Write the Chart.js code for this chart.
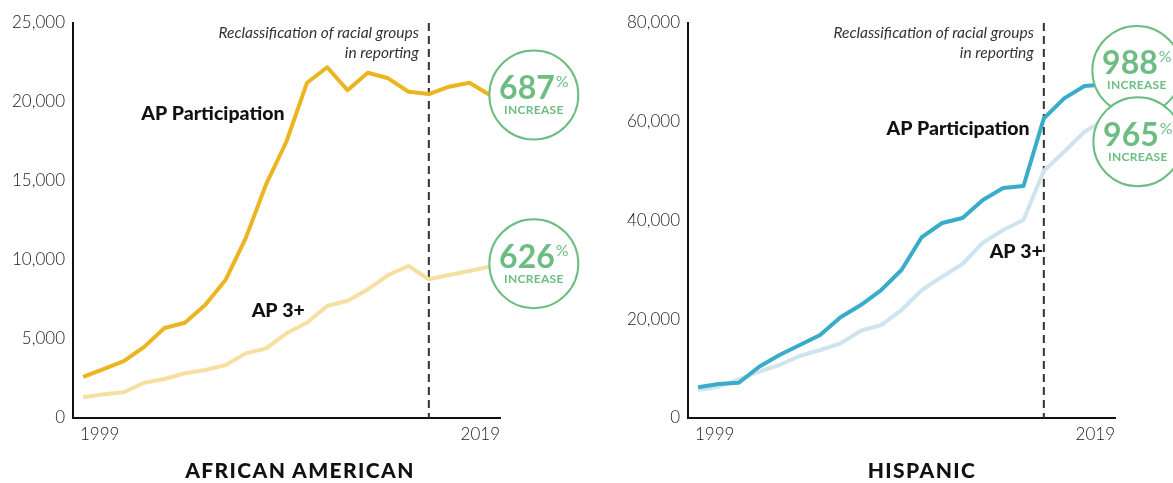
<!DOCTYPE html>
<html>
<head>
<meta charset="utf-8">
<script src="https://cdn.jsdelivr.net/npm/chart.js@4.4.1/dist/chart.umd.min.js"></script>
<style>
  body { margin: 0; background: #fff; width: 1173px; height: 483px; overflow: hidden; position: relative; font-family: Lato, sans-serif; }
  .wrap { position: absolute; top: 0; height: 483px; }
  #w1 { left: 0; width: 590px; }
  #w2 { left: 600px; width: 573px; }
  .title { position: absolute; top: 457px; font-weight: 900; font-size: 21px; letter-spacing: 1.4px; color: #111; transform: translateX(-50%); white-space: nowrap; }
</style>
</head>
<body>
<div class="wrap" id="w1"><canvas id="c1"></canvas></div>
<div class="wrap" id="w2"><canvas id="c2"></canvas></div>
<div class="title" style="left:300px">AFRICAN AMERICAN</div>
<div class="title" style="left:922px">HISPANIC</div>
<script>
// data
const years = ["1999", "2000", "2001", "2002", "2003", "2004", "2005", "2006", "2007", "2008", "2009",
               "2010", "2011", "2012", "2013", "2014", "2015", "2016", "2017", "2018", "2019"];

const aaParticipation = [2600, 3100, 3600, 4500, 5700, 6030, 7150, 8730, 11400, 14800, 17500,
                         21200, 22200, 20750, 21850, 21500, 20650, 20500, 20970, 21220, 20440];
const aaPass = [1310, 1500, 1630, 2230, 2470, 2830, 3040, 3350, 4090, 4410, 5360,
                6030, 7090, 7420, 8140, 9050, 9620, 8780, 9050, 9300, 9580];

const hiParticipation = [6210, 6890, 7150, 10390, 12760, 14780, 16800, 20390, 22880, 25920, 29970,
                         36650, 39490, 40500, 44150, 46580, 46980, 60690, 64740, 67230, 67560];
const hiPass = [5670, 6340, 7830, 9380, 10730, 12560, 13770, 15120, 17680, 18830, 21870,
                25920, 28620, 31190, 35500, 38070, 40100, 50080, 53930, 57980, 60390];

const aaIncrease = ["687", "626"];
const hiIncrease = ["988", "965"];
const splitYear = "2016";
const noteLines = ["Reclassification of racial groups", "in reporting"];

const GREEN = "#6dbd82";

// dashed split line, notes, series labels, % circles, end year labels
const overlay = {
  id: "overlay",
  beforeDatasetsDraw(chart, args, opts) {
    const { ctx, chartArea, scales: { x } } = chart;
    const dx = x.getPixelForValue(years.indexOf(splitYear));
    ctx.save();
    ctx.setLineDash([8, 5]);
    ctx.strokeStyle = "#333";
    ctx.lineWidth = 2;
    ctx.beginPath();
    ctx.moveTo(dx, chartArea.top);
    ctx.lineTo(dx, chartArea.bottom);
    ctx.stroke();
    ctx.restore();
  },
  afterDatasetsDraw(chart, args, opts) {
    const { ctx, chartArea, scales: { x, y } } = chart;
    const dx = x.getPixelForValue(years.indexOf(splitYear));
    ctx.save();

    // note
    ctx.font = "italic 15.5px Lato";
    ctx.fillStyle = "#333";
    ctx.textAlign = "right";
    ctx.textBaseline = "middle";
    noteLines.forEach((t, i) => ctx.fillText(t, dx - 10, chartArea.top + 10 + i * 20));

    // series labels
    ctx.font = "900 19.5px Lato";
    ctx.fillStyle = "#111";
    opts.labels.forEach(l => {
      ctx.fillText(l.text, x.getPixelForValue(l.x), y.getPixelForValue(l.y));
    });

    // end labels of the x axis
    ctx.font = "300 17px Lato";
    ctx.fillStyle = "#1a1a1a";
    ctx.textBaseline = "alphabetic";
    ctx.textAlign = "left";
    ctx.fillText(years[0], chartArea.left + 7, chartArea.bottom + 22);
    ctx.textAlign = "right";
    ctx.fillText(years[years.length - 1], chartArea.right, chartArea.bottom + 22);

    // circles
    chart.data.datasets.forEach((ds, i) => {
      const c = opts.circles[i];
      const meta = chart.getDatasetMeta(i);
      const pt = meta.data[meta.data.length - 1];
      const cx = pt.x + c.dx, cy = pt.y + c.dy;
      ctx.beginPath();
      ctx.arc(cx, cy, 44.5, 0, Math.PI * 2);
      ctx.fillStyle = "#fff";
      ctx.fill();
      ctx.lineWidth = 2;
      ctx.strokeStyle = GREEN;
      ctx.stroke();

      ctx.fillStyle = GREEN;
      ctx.textAlign = "left";
      ctx.textBaseline = "alphabetic";
      ctx.font = "bold 32px Lato";
      const nw = ctx.measureText(c.text).width;
      ctx.font = "16px Lato";
      const pw = ctx.measureText("%").width;
      const sx = cx - (nw + pw + 1) / 2;
      ctx.font = "bold 32px Lato";
      ctx.fillText(c.text, sx, cy + 4);
      ctx.font = "16px Lato";
      ctx.fillText("%", sx + nw + 1, cy - 8);
      ctx.font = "bold 12px Lato";
      ctx.textAlign = "center";
      ctx.letterSpacing = "0.3px";
      ctx.fillText("INCREASE", cx, cy + 19);
      ctx.letterSpacing = "0px";
    });
    ctx.restore();
  }
};

function makeChart(id, seriesA, seriesB, colorA, colorB, yMax, yStep, axisWidth, padRight, labels, circles) {
  return new Chart(document.getElementById(id), {
    type: "line",
    data: {
      labels: years,
      datasets: [
        { data: seriesA, borderColor: colorA, borderWidth: 4, pointRadius: 0, tension: 0, borderJoinStyle: "round" },
        { data: seriesB, borderColor: colorB, borderWidth: 4, pointRadius: 0, tension: 0, borderJoinStyle: "round" }
      ]
    },
    options: {
      responsive: true,
      maintainAspectRatio: false,
      animation: false,
      layout: { padding: { top: 23, right: padRight, bottom: 0, left: 0 } },
      plugins: {
        legend: { display: false },
        tooltip: { enabled: false },
        overlay: { labels, circles }
      },
      scales: {
        x: {
          offset: true,
          grid: { display: false, drawTicks: false },
          border: { display: true, color: "#111", width: 2 },
          ticks: { display: false },
          afterFit: s => { s.height = 65; }
        },
        y: {
          min: 0, max: yMax,
          grid: { display: false, drawTicks: false },
          border: { display: true, color: "#111", width: 2 },
          ticks: {
            stepSize: yStep,
            padding: 8,
            color: "#1a1a1a",
            font: { family: "Lato", size: 17, weight: "300" },
            callback: v => v.toLocaleString("en-US")
          },
          afterFit: s => { s.width = axisWidth; }
        }
      }
    },
    plugins: [overlay]
  });
}

makeChart("c1", aaParticipation, aaPass, "#ebb522", "#f6dfa0", 25000, 5000, 73, 90,
  [{ text: "AP Participation", x: 9.9, y: 19240 }, { text: "AP 3+", x: 10.9, y: 6770 }],
  [{ text: aaIncrease[0], dx: 44, dy: 0 }, { text: aaIncrease[1], dx: 44, dy: -3 }]);

makeChart("c2", hiParticipation, hiPass, "#39acc9", "#cfe4ef", 80000, 20000, 88, 58,
  [{ text: "AP Participation", x: 16.3, y: 58500 }, { text: "AP 3+", x: 16.95, y: 33600 }],
  [{ text: hiIncrease[0], dx: 32, dy: -14 }, { text: hiIncrease[1], dx: 33, dy: 22 }]);
</script>
</body>
</html>
